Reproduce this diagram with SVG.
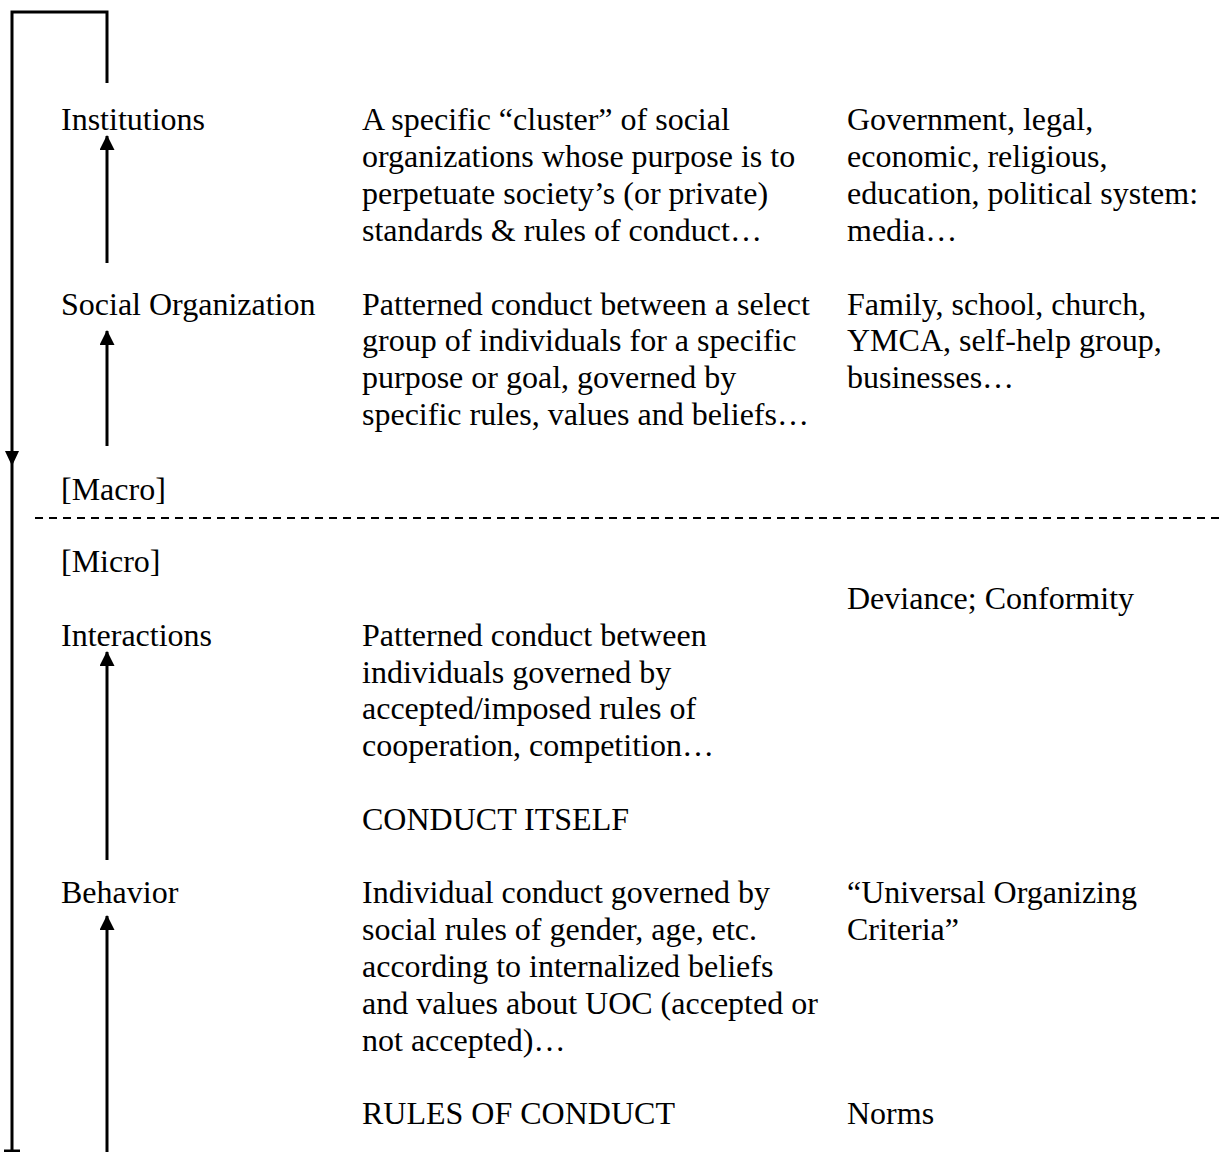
<svg xmlns="http://www.w3.org/2000/svg" width="1224" height="1152" viewBox="0 0 1224 1152">
<defs>
<style>
text{font-family:"Liberation Serif","Times New Roman",serif;font-size:32px;fill:#000}
.ln{stroke:#000;stroke-width:3;fill:none}
.dash{stroke:#000;stroke-width:2;stroke-dasharray:8 6;fill:none}
</style>
<marker id="ah" markerWidth="16" markerHeight="15" refX="15" refY="8" orient="auto" markerUnits="userSpaceOnUse" viewBox="0 0 16 16">
<path d="M0,0 L16,8 L0,16 Z" fill="#000"/>
</marker>
</defs>
<rect width="1224" height="1152" fill="#fff"/>
<g id="connectors">
<path class="ln" d="M107,83 L107,12 L12,12 L12,1152"/>
<path d="M5,451 L19,451 L12,466 Z" fill="#000"/>
<line class="ln" x1="4" y1="1151" x2="20" y2="1151"/>
<line class="ln" x1="107" y1="263" x2="107" y2="136" marker-end="url(#ah)"/>
<line class="ln" x1="107" y1="446" x2="107" y2="331" marker-end="url(#ah)"/>
<line class="ln" x1="107" y1="860" x2="107" y2="652" marker-end="url(#ah)"/>
<line class="ln" x1="107" y1="1152" x2="107" y2="916" marker-end="url(#ah)"/>
<line class="dash" x1="35" y1="518" x2="1224" y2="518"/>
</g>
<g id="institutions">
<text x="61" y="130">Institutions</text>
<text x="362" y="130">A specific “cluster” of social</text>
<text x="362" y="167">organizations whose purpose is to</text>
<text x="362" y="204">perpetuate society’s (or private)</text>
<text x="362" y="241">standards &amp; rules of conduct…</text>
<text x="847" y="130">Government, legal,</text>
<text x="847" y="167">economic, religious,</text>
<text x="847" y="204">education, political system:</text>
<text x="847" y="241">media…</text>
</g>
<g id="social-organization">
<text x="61" y="314.5">Social Organization</text>
<text x="362" y="314.5">Patterned conduct between a select</text>
<text x="362" y="351.4">group of individuals for a specific</text>
<text x="362" y="388.3">purpose or goal, governed by</text>
<text x="362" y="425.2">specific rules, values and beliefs…</text>
<text x="847" y="314.5">Family, school, church,</text>
<text x="847" y="351.4">YMCA, self-help group,</text>
<text x="847" y="388.3">businesses…</text>
</g>
<g id="macro"><text x="61" y="500">[Macro]</text></g>
<g id="micro"><text x="61" y="572">[Micro]</text></g>
<g id="interactions">
<text x="847" y="608.7">Deviance; Conformity</text>
<text x="61" y="645.6">Interactions</text>
<text x="362" y="645.6">Patterned conduct between</text>
<text x="362" y="682.5">individuals governed by</text>
<text x="362" y="719.4">accepted/imposed rules of</text>
<text x="362" y="756.3">cooperation, competition…</text>
<text x="362" y="830.1">CONDUCT ITSELF</text>
</g>
<g id="behavior">
<text x="61" y="903">Behavior</text>
<text x="362" y="903">Individual conduct governed by</text>
<text x="362" y="939.9">social rules of gender, age, etc.</text>
<text x="362" y="976.8">according to internalized beliefs</text>
<text x="362" y="1013.7">and values about UOC (accepted or</text>
<text x="362" y="1050.6">not accepted)…</text>
<text x="847" y="903">“Universal Organizing</text>
<text x="847" y="939.9">Criteria”</text>
<text x="362" y="1124">RULES OF CONDUCT</text>
<text x="847" y="1124">Norms</text>
</g>
</svg>
